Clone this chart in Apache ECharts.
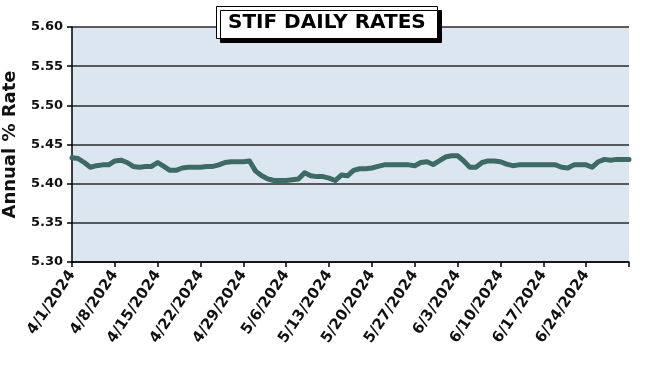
<!DOCTYPE html>
<html><head><meta charset="utf-8">
<script src="https://cdn.jsdelivr.net/npm/echarts@6/dist/echarts.min.js"></script>
<style>html,body{margin:0;padding:0;background:#fff}#c{width:650px;height:370px}</style>
</head><body><div id="c"></div>
<script>
// Daily calendar from 4/1/2024 to 7/1/2024 (category labels)
const startDate = [2024, 3, 1];
const dayCount = 92;
const dates = [];
for (let i = 0; i < dayCount; i++) {
  const d = new Date(Date.UTC(startDate[0], startDate[1], startDate[2] + i));
  dates.push((d.getUTCMonth() + 1) + '/' + d.getUTCDate() + '/' + d.getUTCFullYear());
}
const tickLabels = ['4/1/2024','4/8/2024','4/15/2024','4/22/2024','4/29/2024','5/6/2024','5/13/2024','5/20/2024','5/27/2024','6/3/2024','6/10/2024','6/17/2024','6/24/2024'];
const rates = [
  5.433,5.432,5.427,5.421,5.423,5.424,5.424,
  5.429,5.430,5.427,5.422,5.421,5.422,5.422,
  5.427,5.422,5.417,5.417,5.420,5.421,5.421,
  5.421,5.422,5.422,5.424,5.427,5.428,5.428,
  5.428,5.429,5.416,5.410,5.406,5.404,5.404,
  5.404,5.405,5.406,5.414,5.410,5.409,5.409,
  5.407,5.404,5.411,5.410,5.417,5.419,5.419,
  5.420,5.422,5.424,5.424,5.424,5.424,5.424,
  5.423,5.427,5.428,5.4245,5.429,5.434,5.4356,
  5.4356,5.429,5.421,5.421,5.427,5.429,5.429,
  5.428,5.425,5.423,5.424,5.424,5.424,5.424,
  5.424,5.424,5.424,5.421,5.420,5.424,5.424,
  5.424,5.421,5.428,5.431,5.430,5.431,5.431,
  5.431
];
const yTicks = {min: 5.30, max: 5.60, step: 0.05};
const chartTitle = 'STIF DAILY RATES';
const yName = 'Annual % Rate';

const chart = echarts.init(document.getElementById('c'));
const F = 'DejaVu Sans';
chart.setOption({
  animation: false,
  backgroundColor: '#ffffff',
  title: {
    text: chartTitle,
    left: 216, top: 6,
    padding: [7, 12, 6, 12],
    backgroundColor: '#ffffff',
    borderColor: '#000', borderWidth: 1,
    shadowColor: '#000', shadowOffsetX: 4, shadowOffsetY: 4, shadowBlur: 0,
    textStyle: {fontFamily: F, fontWeight: 'bold', fontSize: 20, color: '#000'}
  },
  grid: {left: 72, right: 21, top: 27, bottom: 108, show: true, backgroundColor: '#dce6f1', borderWidth: 0,
    containLabel: false, outerBoundsMode: 'none'},
  xAxis: {
    type: 'category', data: dates, boundaryGap: false,
    axisLine: {lineStyle: {color: '#000', width: 1.5}},
    axisTick: {interval: function(i){ return i % 7 === 0; }, length: 5, lineStyle: {color: '#000', width: 1.5}},
    axisLabel: {
      interval: function(i, v){ return tickLabels.indexOf(v) >= 0; },
      rotate: 56, margin: 10,
      fontFamily: F, fontWeight: 'bold', fontSize: 15, color: '#111'
    },
    splitLine: {show: false}
  },
  yAxis: {
    type: 'value', min: yTicks.min, max: yTicks.max, interval: yTicks.step,
    name: yName, nameLocation: 'middle', nameRotate: 90, nameGap: 53,
    nameTextStyle: {fontFamily: F, fontWeight: 'bold', fontSize: 18, color: '#111'},
    axisLine: {show: true, lineStyle: {color: '#000', width: 1.5}},
    axisTick: {show: true, length: 5, lineStyle: {color: '#000', width: 1.5}},
    axisLabel: {formatter: function(v){ return v.toFixed(2); }, margin: 9,
      fontFamily: F, fontWeight: 'bold', fontSize: 13, color: '#111'},
    splitLine: {lineStyle: {color: '#2b2b2b', width: 1.5}}
  },
  series: [{
    type: 'line', data: rates, showSymbol: false, symbol: 'none',
    lineStyle: {color: '#3c6b66', width: 5, join: 'round', cap: 'round'}
  }]
});
</script></body></html>
